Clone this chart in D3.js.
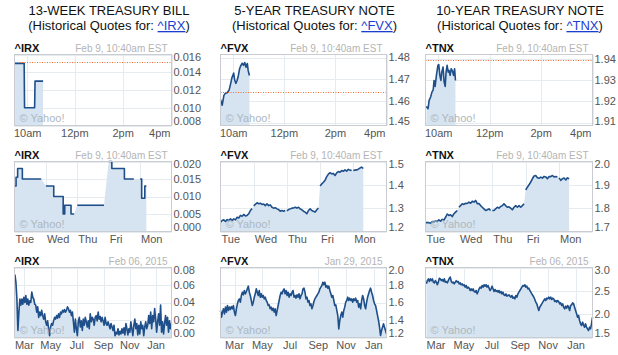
<!DOCTYPE html>
<html><head><meta charset="utf-8">
<script src="https://cdn.jsdelivr.net/npm/d3@7"></script>
<style>body{margin:0;background:#fff}svg{display:block;font-family:"Liberation Sans",Arial,Helvetica,sans-serif}</style>
</head><body><svg id="c" width="618" height="355"></svg>
<script>
// ---------------- DATA ----------------
const titles = ["13-WEEK TREASURY BILL", "5-YEAR TREASURY NOTE", "10-YEAR TREASURY NOTE"];
const symbols = ["^IRX", "^FVX", "^TNX"];
const stampIntraday = "Feb 9, 10:40am EST";
const stampYear = ["Feb 06, 2015", "Jan 29, 2015", "Feb 06, 2015"];

// Intraday (minutes after 9:30am open, yield)
const intradayTickMinutes = [30, 150, 270, 390];
const intradayTickLabels = ["10am", "12pm", "2pm", "4pm"];
const irxIntraday = [[0,0.015],[24,0.015],[25,0.010],[50,0.010],[51,0.013],[71,0.013]];
const fvxIntraday = [[0,1.4608],[4,1.4582],[8,1.4627],[12,1.4638],[15,1.4638],[20,1.465],[24,1.4682],[27,1.4709],[31,1.4729],[33,1.470],[36,1.4682],[39,1.4695],[42,1.4718],[45,1.475],[48,1.4764],[51,1.4774],[54,1.4764],[57,1.4777],[60,1.4756],[63,1.4773],[65,1.4741],[68,1.4718]];
const tnxIntraday = [[2,1.9176],[6,1.9165],[8.5,1.9204],[12,1.922],[15,1.9243],[18,1.9254],[20,1.9298],[22.5,1.927],[25.5,1.9322],[29,1.9369],[31,1.9373],[33.5,1.9322],[36,1.9298],[38,1.9337],[41,1.9361],[43.5,1.929],[46,1.927],[48,1.9337],[50.5,1.9369],[53,1.9337],[55,1.9345],[57.5,1.9322],[60,1.9353],[63,1.9342],[65.5,1.9322],[68,1.9353],[70,1.9298]];
const prevClose = [0.0151, 1.4641, 1.9395];
const intradayYDomain = [[0.008, 0.016], [1.4489, 1.4814], [1.9086, 1.942]];
const intradayYTicks = [[0.008,0.010,0.012,0.014,0.016],[1.45,1.46,1.47,1.48],[1.91,1.92,1.93,1.94]];

// 5-day (one array per session, sampled every 0.05 of a session)
const weekDays = ["Tue", "Wed", "Thu", "Fri", "Mon"];
const weekStep = 0.05;
const irxWeek = [
  [0.013,0.0155,0.018,0.018,0.018,0.015,0.015,0.015,0.015,0.015,0.015,0.015,0.015,0.015,0.015,0.015,0.015,0.015],
  [0.013,0.013,0.013,0.013,0.013,0.010,0.010,0.010,0.010,0.010,0.010,0.005,0.0075,0.0075,0.0075,0.0075,0.005,0.005,0.005],
  [0.0075,0.0075,0.0075,0.0075,0.0075,0.0075,0.0075,0.0075,0.0075,0.0075,0.0075,0.0075,0.0075,0.0075,0.0075,0.0075,0.0075,0.0075],
  [0.020,0.020,0.018,0.018,0.018,0.018,0.018,0.018,0.018,0.018,0.015,0.015,0.015,0.015,0.015,0.015,0.015],
  [0.015,0.0095,0.0095,0.013,0.013]
];
const fvxWeek = [
  [1.240,1.247,1.250,1.243,1.251,1.247,1.254,1.247,1.254,1.250,1.261,1.258,1.269,1.265,1.273,1.267,1.269,1.276,1.290,1.298],
  [1.310,1.316,1.323,1.319,1.321,1.316,1.318,1.311,1.319,1.311,1.314,1.304,1.300,1.302,1.297,1.294,1.287,1.290,1.287,1.290],
  [1.289,1.294,1.297,1.300,1.301,1.304,1.300,1.304,1.297,1.293,1.287,1.283,1.276,1.290,1.297,1.290,1.287,1.283,1.293,1.300],
  [1.395,1.404,1.411,1.420,1.435,1.446,1.452,1.447,1.449,1.440,1.451,1.457,1.454,1.461,1.458,1.464,1.459,1.466,1.463,1.461],
  [1.461,1.463,1.464,1.467,1.472,1.476,1.470]
];
const tnxWeek = [
  [1.738,1.738,1.738,1.735,1.743,1.741,1.746,1.743,1.750,1.744,1.752,1.749,1.761,1.775,1.769,1.772,1.764,1.776,1.783,1.790],
  [1.804,1.811,1.819,1.816,1.821,1.820,1.826,1.821,1.830,1.826,1.833,1.819,1.820,1.811,1.804,1.797,1.790,1.793,1.797,1.790],
  [1.790,1.790,1.797,1.804,1.800,1.807,1.811,1.819,1.811,1.804,1.806,1.800,1.793,1.804,1.811,1.804,1.811,1.804,1.811,1.819],
  [1.878,1.890,1.900,1.912,1.926,1.938,1.940,1.930,1.928,1.933,1.929,1.936,1.934,1.926,1.936,1.935,1.940,1.934,1.936,1.933],
  [1.930,1.919,1.926,1.929,1.921,1.930,1.926]
];
const weekYTicks = [[0,0.005,0.010,0.015,0.020],[1.2,1.3,1.4,1.5],[1.7,1.8,1.9,2.0]];

// 1-year (evenly sampled between first and last sample date)
const yearSpan = [["2014-02-07","2015-02-06"],["2014-01-29","2015-01-29"],["2014-02-08","2015-02-06"]];
const irxYear = [0.072,0.063,0.044,0.008,0.029,0.044,0.037,0.044,0.038,0.046,0.040,0.048,0.038,0.044,0.037,0.042,0.040,0.052,0.046,0.044,0.038,0.037,0.029,0.035,0.023,0.029,0.025,0.031,0.025,0.021,0.027,0.018,0.014,0.019,0.010,0.002,0.012,0.016,0.014,0.019,0.023,0.021,0.025,0.022,0.027,0.023,0.029,0.027,0.031,0.029,0.032,0.029,0.031,0.035,0.033,0.029,0.031,0.025,0.029,0.018,0.006,0.021,0.010,0.002,0.019,0.023,0.012,0.019,0.008,0.021,0.014,0.023,0.018,0.012,0.019,0.010,0.027,0.018,0.023,0.021,0.014,0.023,0.025,0.019,0.029,0.021,0.024,0.018,0.023,0.019,0.014,0.023,0.016,0.014,0.018,0.014,0.010,0.016,0.012,0.008,0.014,0.002,0.006,0.004,0.010,0.003,0.007,0.004,0.010,0.005,0.011,0.003,0.016,0.010,0.003,0.010,0.006,0.018,0.010,0.002,0.014,0.021,0.010,0.016,0.003,0.014,0.004,0.018,0.010,0.014,0.002,0.012,0.018,0.010,0.014,0.025,0.016,0.029,0.010,0.025,0.018,0.033,0.021,0.006,0.018,0.027,0.014,0.037,0.006,0.018,0.004,0.016,0.025,0.014,0.023,0.006,0.019,0.010,0.016];
const fvxYear = [1.509,1.432,1.490,1.528,1.470,1.547,1.490,1.566,1.509,1.547,1.520,1.554,1.528,1.566,1.490,1.451,1.528,1.585,1.623,1.642,1.604,1.680,1.718,1.688,1.737,1.699,1.726,1.756,1.787,1.718,1.680,1.623,1.566,1.604,1.661,1.699,1.756,1.718,1.680,1.737,1.661,1.699,1.661,1.680,1.642,1.661,1.623,1.604,1.566,1.573,1.528,1.547,1.509,1.535,1.490,1.528,1.451,1.509,1.566,1.623,1.680,1.718,1.699,1.737,1.756,1.699,1.737,1.680,1.718,1.661,1.699,1.680,1.718,1.737,1.661,1.680,1.650,1.688,1.661,1.699,1.642,1.680,1.699,1.756,1.764,1.718,1.642,1.661,1.604,1.623,1.566,1.585,1.528,1.566,1.611,1.642,1.661,1.680,1.699,1.718,1.756,1.775,1.794,1.832,1.802,1.832,1.775,1.794,1.764,1.787,1.737,1.699,1.661,1.680,1.623,1.566,1.573,1.509,1.451,1.299,1.394,1.451,1.490,1.432,1.509,1.547,1.604,1.623,1.661,1.623,1.650,1.623,1.642,1.604,1.642,1.623,1.650,1.604,1.623,1.547,1.585,1.528,1.623,1.680,1.642,1.566,1.528,1.604,1.661,1.699,1.737,1.764,1.718,1.680,1.623,1.585,1.566,1.509,1.451,1.394,1.318,1.223,1.280,1.318,1.356,1.318,1.280,1.242];
const tnxYear = [2.650,2.720,2.757,2.700,2.757,2.720,2.757,2.686,2.670,2.720,2.686,2.630,2.686,2.770,2.757,2.720,2.743,2.700,2.757,2.686,2.700,2.670,2.720,2.770,2.793,2.700,2.670,2.686,2.650,2.686,2.720,2.686,2.700,2.650,2.670,2.630,2.650,2.614,2.630,2.580,2.614,2.557,2.580,2.557,2.507,2.543,2.507,2.543,2.486,2.471,2.507,2.436,2.486,2.543,2.580,2.557,2.614,2.580,2.630,2.600,2.630,2.580,2.614,2.557,2.507,2.543,2.600,2.543,2.486,2.529,2.486,2.507,2.471,2.507,2.457,2.486,2.436,2.471,2.414,2.400,2.436,2.386,2.400,2.414,2.386,2.364,2.400,2.343,2.364,2.329,2.400,2.364,2.436,2.471,2.507,2.543,2.580,2.614,2.600,2.630,2.580,2.600,2.543,2.557,2.507,2.471,2.436,2.400,2.364,2.314,2.257,2.221,2.150,2.079,2.150,2.186,2.221,2.257,2.293,2.329,2.293,2.343,2.329,2.364,2.329,2.364,2.314,2.343,2.329,2.271,2.293,2.257,2.293,2.271,2.221,2.243,2.186,2.221,2.150,2.114,2.171,2.129,2.186,2.150,2.079,2.186,2.200,2.243,2.221,2.150,2.079,2.007,1.936,1.971,1.864,1.793,1.757,1.829,1.771,1.721,1.793,1.721,1.686,1.650,1.721,1.686,1.793,1.936];
const yearYTicks = [[0,0.02,0.04,0.06,0.08],[1.2,1.4,1.6,1.8,2.0],[1.5,2.0,2.5,3.0]];

// ---------------- LAYOUT / STYLE ----------------
const cols = [{x0:14.5,x1:171.5,cx:109},{x0:220.5,x1:386.5,cx:314.5},{x0:425.5,x1:592.5,cx:520}];
const rows = [{y0:54.5,y1:125.5},{y0:161.5,y1:231.5},{y0:267.5,y1:337.5}];
const C = {line:"#1f4f8a", area:"#d5e4f0", grid:"#e6ebef", border:"#c9cdd1", text:"#555", prev:"#f26a2e"};
const svg = d3.select("#c");
svg.append("rect").attr("width",618).attr("height",355).attr("fill","#fff");

// titles (each line built as one text string; link drawn as an overlaid coloured text with underline)
titles.forEach((t,i)=>{
  svg.append("text").attr("x",cols[i].cx).attr("y",14.5).attr("text-anchor","middle")
    .attr("font-size",13).attr("fill","#111").text(t);
  const t2 = svg.append("text").attr("x",cols[i].cx).attr("y",30).attr("text-anchor","middle")
    .attr("font-size",13).attr("fill","#111");
  t2.append("tspan").text("(Historical Quotes for: ");
  t2.append("tspan").attr("fill","#1a3fcf").attr("text-decoration","underline").text(symbols[i]);
  t2.append("tspan").text(")");
});

function stepExpand(pts){
  const out=[];
  pts.forEach((p,i)=>{ if(i>0) out.push([p[0], pts[i-1][1]]); out.push(p); });
  return out;
}

function panel(ci, ri, o){
  const c = cols[ci], r = rows[ri];
  const g = svg.append("g");
  const x = o.x.range([c.x0, c.x1]);
  const y = d3.scaleLinear().domain(o.yDomain).range([r.y1, r.y0]);
  g.append("g").selectAll("line").data(o.yTicks).join("line")
    .attr("x1",c.x0).attr("x2",c.x1).attr("y1",d=>Math.round(y(d))+0.5).attr("y2",d=>Math.round(y(d))+0.5)
    .attr("stroke",C.grid);
  g.append("g").selectAll("line").data(o.xGrid).join("line")
    .attr("x1",d=>Math.round(x(d))+0.5).attr("x2",d=>Math.round(x(d))+0.5).attr("y1",r.y0).attr("y2",r.y1)
    .attr("stroke",C.grid);
  g.append("path").datum(o.area)
    .attr("d", d3.area().x(d=>x(d[0])).y0(r.y1).y1(d=>y(d[1])))
    .attr("fill",C.area);
  o.segs.forEach(s=>{
    g.append("path").datum(s)
      .attr("d", d3.line().x(d=>x(d[0])).y(d=>y(d[1])))
      .attr("fill","none").attr("stroke",C.line).attr("stroke-width",1.6)
      .attr("stroke-linejoin","round");
  });
  if (o.prev !== undefined){
    const py = Math.round(y(o.prev))+0.5;
    g.append("line").attr("x1",c.x0).attr("x2",c.x1).attr("y1",py).attr("y2",py)
      .attr("stroke",C.prev).attr("stroke-width",1).attr("stroke-dasharray","1,1.5");
  }
  g.append("text").attr("x",c.x0+5).attr("y",r.y1-4).attr("font-size",11)
    .attr("fill","#aeb7c0").text("\u00A9 Yahoo!");
  g.append("rect").attr("x",c.x0).attr("y",r.y0).attr("width",c.x1-c.x0).attr("height",r.y1-r.y0)
    .attr("fill","none").attr("stroke",C.border);
  g.append("text").attr("x",c.x0).attr("y",r.y0-3).attr("font-size",11).attr("font-weight","bold")
    .attr("fill","#111").text(symbols[ci]);
  g.append("text").attr("x",c.x1-4).attr("y",r.y0-3).attr("font-size",10).attr("text-anchor","end")
    .attr("fill","#b4b4b4").text(o.stamp);
  g.append("g").selectAll("text").data(o.yTicks).join("text")
    .attr("x",c.x1+2).attr("y",d=>Math.max(r.y0+3, Math.min(r.y1-4, y(d))))
    .attr("dy","0.35em").attr("font-size",11).attr("fill",C.text).text(o.yFmt);
  const xl = g.append("g").selectAll("text").data(o.xLabels).join("text")
    .attr("y",r.y1+11).attr("font-size",11).attr("fill",C.text).text(d=>d.text);
  xl.each(function(d){
    const w = this.getComputedTextLength();
    let left;
    if (d.align === "start") left = x(d.at) + 1;
    else left = x(d.at) - w/2;
    left = Math.max(c.x0 - 0.5, Math.min(c.x1 - w - 1, left));
    d3.select(this).attr("x", left);
  });
}

const intradaySets = [irxIntraday, fvxIntraday, tnxIntraday];
const weekSets = [irxWeek, fvxWeek, tnxWeek];
const yearSets = [irxYear, fvxYear, tnxYear];
const fmtIntra = [d3.format(".3f"), d3.format(".2f"), d3.format(".2f")];
const fmtWeek = [d3.format(".3f"), d3.format(".1f"), d3.format(".1f")];
const fmtYear = [d3.format(".2f"), d3.format(".1f"), d3.format(".1f")];
const parse = d3.utcParse("%Y-%m-%d");

for (let i=0;i<3;i++){
  panel(i, 0, {
    x: d3.scaleLinear().domain([0, 390]),
    yDomain: intradayYDomain[i], yTicks: intradayYTicks[i], yFmt: fmtIntra[i],
    xGrid: intradayTickMinutes,
    xLabels: intradayTickMinutes.map((m,k)=>({at:m, text:intradayTickLabels[k]})),
    area: intradaySets[i], segs: [intradaySets[i]], prev: prevClose[i], stamp: stampIntraday
  });
  const days = weekSets[i].map((arr,d)=>{
    const pts = arr.map((v,k)=>[d + k*weekStep, v]);
    return i===0 ? stepExpand(pts) : pts;
  });
  panel(i, 1, {
    x: d3.scaleLinear().domain([0, weekDays.length]),
    yDomain: d3.extent(weekYTicks[i]), yTicks: weekYTicks[i], yFmt: fmtWeek[i],
    xGrid: d3.range(1, weekDays.length),
    xLabels: weekDays.map((t,d)=>({at:d, text:t, align:"start"})),
    area: days.flat(), segs: days, stamp: stampIntraday
  });
  const t0 = parse(yearSpan[i][0]), t1 = parse(yearSpan[i][1]);
  const vals = yearSets[i];
  const ypts = vals.map((v,k)=>[new Date(+t0 + (t1 - t0)*k/(vals.length-1)), v]);
  const end = parse(yearSpan[i][1]);
  const xs = d3.scaleUtc().domain([d3.utcYear.offset(end,-1), end]);
  const mt = xs.ticks(d3.utcMonth.every(2));
  panel(i, 2, {
    x: xs,
    yDomain: d3.extent(yearYTicks[i]), yTicks: yearYTicks[i], yFmt: fmtYear[i],
    xGrid: mt,
    xLabels: mt.map(m=>({at:m, text:d3.utcFormat("%b")(m)})),
    area: ypts, segs: [ypts], stamp: stampYear[i]
  });
}
</script></body></html>
